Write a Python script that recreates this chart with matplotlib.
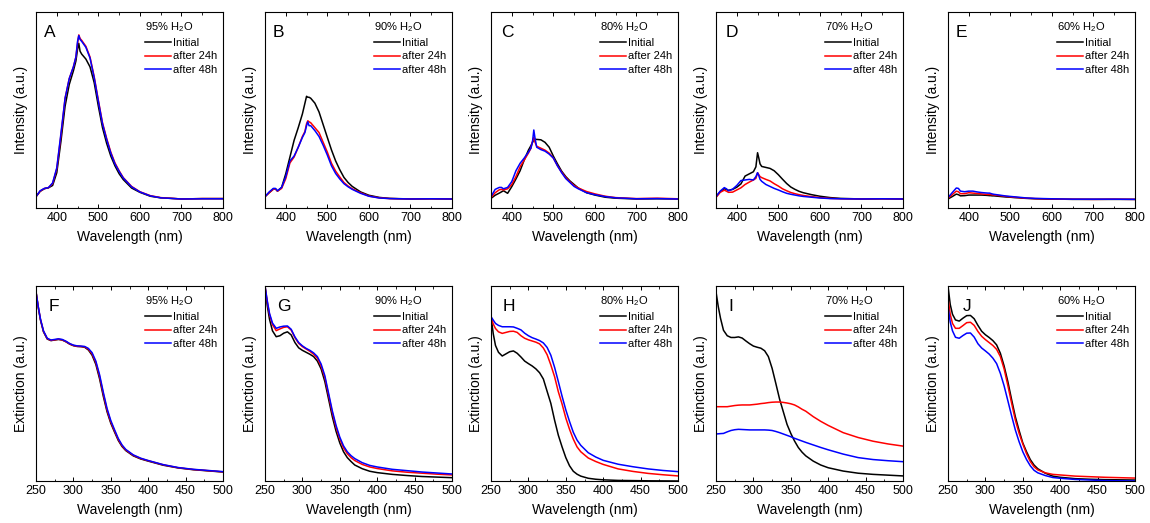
import matplotlib
matplotlib.use('Agg')
import matplotlib.pyplot as plt
from matplotlib.ticker import MultipleLocator

plt.rcParams['font.family'] = ['Liberation Sans', 'DejaVu Sans']
plt.rcParams['mathtext.fontset'] = 'custom'
plt.rcParams['mathtext.rm'] = 'Liberation Sans'
plt.rcParams['mathtext.it'] = 'Liberation Sans:italic'

# wavelength grids (nm)
pl_wl = [350, 360, 370, 375, 380, 390, 400, 410, 420, 430, 440, 446, 450, 453, 456, 460, 470, 480,
         490, 500, 510, 520, 530, 540, 550, 560, 580, 600, 625, 650, 700, 750, 800]
abs_wl = [250, 253, 256, 260, 265, 270, 275, 280, 285, 290, 295, 300, 305, 310, 315, 320, 325,
          330, 335, 340, 345, 350, 355, 360, 365, 370, 380, 390, 400, 420, 440, 460, 480, 500]

water = ['95%', '90%', '80%', '70%', '60%']
series_labels = ['Initial', 'after 24h', 'after 48h']

# emission (a.u.), top row
a_init = [5.8, 8.5, 9.8, 10.1, 10.3, 11.5, 18, 34, 52, 63, 70, 75, 81, 84, 80, 78.5, 76, 72,
          64, 52, 41, 33, 26.5, 21.5, 17.5, 14.5, 10.2, 8, 6, 5.2, 4.6, 4.8, 4.8]
a_24h = [5.8, 8.6, 9.9, 10.2, 10.4, 12.5, 20, 37, 56, 66, 72, 77, 84, 88.3, 86.5, 85.5, 82.5, 77,
         67, 55, 43.5, 35.5, 28.5, 23, 19, 15.5, 11, 8.3, 6.3, 5.3, 4.6, 4.8, 4.8]
a_48h = [5.8, 8.8, 10.0, 10.2, 10.4, 12.8, 20.5, 38, 56, 66, 72, 77, 85, 88, 86, 85, 82, 76.5,
         66.5, 54.5, 43, 35, 28, 22.5, 18.7, 15.3, 10.8, 8.2, 6.2, 5.2, 4.6, 4.7, 4.7]

b_init = [5.8, 7.8, 9.6, 9.8, 8.6, 10.5, 17.5, 26, 34.5, 41, 48, 53.4, 57, 56.5, 56.5, 56, 53.5, 49,
          42.5, 36, 29.6, 24, 19.5, 15.6, 13, 11, 8.2, 6.5, 5.4, 4.9, 4.6, 4.7, 4.6]
b_24h = [5.8, 7.8, 9.6, 9.8, 8.6, 10.0, 15, 23, 26, 31, 36.5, 39, 43, 44.5, 44, 43.5, 41, 38.5,
         33.5, 28.5, 22.8, 18.8, 15.8, 13, 11.2, 9.8, 7.8, 6.1, 5.2, 4.8, 4.6, 4.7, 4.6]
b_48h = [5.8, 8.2, 10, 10, 8.8, 10.5, 16, 24, 26.5, 31, 36, 38.5, 42, 44, 42, 42, 39.5, 36.5,
         32, 27, 21.5, 17.6, 14.8, 12.4, 10.8, 9.5, 7.5, 6, 5.1, 4.8, 4.6, 4.7, 4.6]

c_init = [4.9, 6.5, 7.6, 8.2, 8.8, 7.5, 10.9, 14.8, 19, 24.5, 29.5, 31.8, 33.5, 34.7, 35, 35, 34.8, 33.5,
          31, 26.5, 22.5, 18.8, 16, 13.8, 12, 10.2, 7.8, 6.6, 5.5, 5, 4.6, 4.7, 4.6]
c_24h = [5.3, 7.8, 9.3, 9.5, 9.2, 9.8, 12, 16, 21, 24.5, 28, 30.5, 34, 36, 33.5, 31.5, 30.5, 29.5,
         28, 25.5, 21.5, 18.3, 15.5, 13.3, 11.5, 10.2, 8.4, 7.2, 6, 5.3, 4.8, 5, 4.7]
c_48h = [5.8, 9.5, 10.5, 10.5, 9.8, 10.5, 13.5, 19, 22.8, 25.5, 28.5, 30.5, 34, 39.8, 35.5, 31, 29.8, 29,
         27.5, 25.5, 21.5, 18, 15, 13, 11, 9.8, 7.8, 6.8, 5.8, 5.2, 4.7, 4.8, 4.6]

d_init = [5.8, 8.2, 9.8, 9.5, 9.0, 9.5, 10.6, 12.3, 16.3, 17.4, 18.5, 21, 28.2, 25.5, 22.5, 21.2, 20.7, 20.2,
          19, 17, 14.7, 12.5, 10.7, 9.5, 8.5, 7.8, 6.8, 6, 5.3, 4.9, 4.6, 4.7, 4.6]
d_24h = [5.4, 8.0, 9.1, 8.6, 8.0, 8.1, 9.2, 10.3, 12, 13.2, 14.3, 15.1, 18, 17, 16, 15.5, 14.6, 13.8,
         12.4, 11.2, 9.8, 8.8, 7.9, 7.3, 6.8, 6.4, 5.8, 5.3, 4.9, 4.7, 4.6, 4.7, 4.6]
d_48h = [5.8, 8.6, 10.4, 9.8, 8.8, 9.6, 11.5, 14.0, 14.3, 14.6, 14.3, 16, 18, 16.5, 14.6, 13.6, 12, 11,
         10, 9.2, 8.3, 7.5, 7, 6.6, 6.2, 5.9, 5.5, 5.1, 4.8, 4.7, 4.6, 4.7, 4.6]

e_init = [4.6, 5.8, 7.1, 6.8, 6.2, 6.3, 6.6, 6.6, 6.6, 6.6, 6.5, 6.4, 6.3, 6.3, 6.2, 6.2, 6.0, 5.8,
          5.6, 5.5, 5.3, 5.2, 5.0, 4.9, 4.8, 4.7, 4.6, 4.5, 4.5, 4.4, 4.4, 4.4, 4.4]
e_24h = [4.9, 6.8, 8.6, 8.3, 7.3, 7.3, 7.8, 7.6, 7.4, 7.2, 7.0, 6.9, 6.9, 6.8, 6.7, 6.7, 6.4, 6.2,
         5.9, 5.7, 5.5, 5.3, 5.1, 5.0, 4.9, 4.8, 4.7, 4.6, 4.5, 4.5, 4.4, 4.5, 4.4]
e_48h = [5.3, 7.8, 10.2, 10.0, 8.6, 8.3, 8.6, 8.6, 8.2, 7.9, 7.7, 7.6, 7.6, 7.4, 7.2, 7.0, 6.7, 6.4,
         6.1, 5.9, 5.7, 5.5, 5.3, 5.1, 5.0, 4.9, 4.8, 4.7, 4.6, 4.5, 4.5, 4.5, 4.4]

# extinction (a.u.), bottom row
f_init = [97, 89, 82.5, 76.5, 72.8, 72, 72.3, 72.6, 72.3, 71.4, 70.2, 69.4, 69, 68.9, 68.6, 67.2, 64.5,
          59.8, 52.4, 43.4, 35.5, 29.6, 25.1, 20.8, 17.7, 15.6, 12.9, 11.3, 10.2, 8.1, 6.7, 5.8, 5.2, 4.6]
f_24h = [97, 89.3, 82.8, 76.8, 73, 72.1, 72.4, 72.7, 72.4, 71.5, 70.3, 69.5, 69.1, 69, 68.8, 67.6, 65.2,
         60.8, 53.6, 44.6, 36.4, 30.3, 25.7, 21.3, 18.1, 15.9, 13.2, 11.5, 10.4, 8.3, 6.8, 5.9, 5.3, 4.7]
f_48h = [97, 89.5, 83, 77, 73.2, 72.3, 72.6, 72.9, 72.6, 71.7, 70.5, 69.7, 69.3, 69.2, 69, 68, 65.8,
         61.5, 54.5, 45.5, 37.2, 31, 26.3, 21.8, 18.5, 16.2, 13.4, 11.7, 10.5, 8.4, 6.9, 6, 5.4, 4.8]

g_init = [100, 90, 83, 77, 74, 74.5, 75.8, 76.5, 74.9, 71, 68.3, 67, 66, 65, 63.8, 61.5, 57.5,
          51, 42, 33, 25.5, 19.5, 15, 12, 10, 8.2, 6.3, 5, 4.3, 3.4, 2.8, 2.3, 2, 1.7]
g_24h = [100, 92, 85.5, 80.2, 77.1, 78, 78.8, 79.1, 77.4, 73.5, 70.6, 68.9, 67.7, 66.5, 65, 63, 59,
         53, 44, 35, 27.5, 21.5, 17, 14, 12, 10.5, 8.5, 7.2, 6.4, 5.2, 4.5, 4, 3.5, 3.1]
g_48h = [100, 92.5, 86, 81, 78.3, 79, 79.4, 79.5, 77.8, 73.9, 71, 69.3, 68, 67, 65.7, 63.8, 60,
         54, 45, 36, 28.5, 22.5, 18, 15, 13, 11.5, 9.4, 8, 7.2, 6, 5.3, 4.6, 4.1, 3.6]

h_init = [84.3, 75.5, 69.5, 66, 64.1, 65.2, 66.3, 66.7, 65.5, 63.6, 61.5, 60.2, 59, 57.5, 55.5, 52.3, 46,
          39.8, 31.2, 23.5, 17.5, 12, 7.8, 5, 3.5, 2.5, 1.4, 0.9, 0.6, 0.3, 0.2, 0.1, 0.05, 0]
h_24h = [84, 80.5, 78.2, 76.5, 75.7, 76.2, 76.7, 76.8, 76.2, 74.5, 73.2, 72.4, 71.8, 71.2, 70.3, 68.2, 64.8,
         59.5, 53.5, 45.8, 39.5, 32.3, 26.5, 21.5, 17.5, 15, 11.8, 10, 8.5, 6.2, 4.9, 3.9, 3.2, 2.6]
h_48h = [84.3, 82.5, 80.8, 79.8, 79.1, 79.1, 79.1, 79, 78.3, 77.5, 75.8, 74.5, 73.5, 72.8, 72, 70.8, 68.5,
         64.5, 58.3, 51, 43.5, 36.5, 30.5, 25, 21, 18.3, 14.5, 12.3, 10.6, 8.6, 7.3, 6.2, 5.4, 4.8]

i_init = [97, 89.5, 83.5, 77.3, 74.5, 73.6, 73.6, 73.9, 73.3, 71.8, 70.4, 69.2, 68.6, 68.1, 66.8, 63.8, 57.8,
          50, 42, 35.5, 29, 24.4, 20.5, 17.2, 14.8, 12.9, 10.2, 8.2, 6.8, 5.1, 4, 3.4, 3, 2.6]
i_24h = [38.1, 38.1, 38.1, 38.1, 38.1, 38.4, 38.7, 38.9, 39, 39, 39, 39.2, 39.4, 39.7, 39.9, 40.2, 40.4,
         40.5, 40.5, 40.3, 40, 39.6, 39, 38, 36.8, 35.8, 33, 30.6, 28.5, 24.8, 22.3, 20.4, 19, 17.9]
i_48h = [24.1, 24.2, 24.3, 24.4, 25.2, 25.9, 26.3, 26.5, 26.4, 26.3, 26.2, 26.2, 26.2, 26.2, 26.2, 26.1, 25.9,
         25.4, 24.8, 24.1, 23.4, 22.7, 21.9, 21.2, 20.5, 19.8, 18.5, 17.2, 16, 13.8, 12, 11, 10.4, 9.9]

j_init = [100, 90.5, 85.5, 82.6, 82, 83.5, 84.8, 84.9, 83.2, 79.8, 76.8, 75, 73.6, 72, 69.8, 65.5, 59,
          51, 41.8, 33, 26, 19.5, 15, 11, 8.2, 6.3, 4, 2.5, 1.9, 1.2, 0.9, 0.7, 0.6, 0.5]
j_24h = [93.7, 85.5, 80.8, 78.3, 78.3, 79.7, 81.2, 81.4, 79.8, 76.7, 74.2, 72.5, 71, 69.5, 67.5, 63.8, 57.5,
         49, 40, 31.3, 24.5, 19, 14, 10, 7.3, 5.7, 4.2, 3.4, 3.1, 2.5, 2.2, 1.9, 1.7, 1.5]
j_48h = [89.4, 81.5, 77, 73.7, 73.2, 74.6, 75.8, 75.9, 73.8, 70.4, 68.2, 66.7, 65.1, 63, 60.2, 55.2, 48.8,
         41.2, 33.5, 26.2, 20.2, 15, 11, 7.8, 5.5, 4.2, 2.8, 1.8, 1.4, 0.8, 0.5, 0.2, 0.1, 0]

top_sets = [(a_init, a_24h, a_48h), (b_init, b_24h, b_48h), (c_init, c_24h, c_48h),
            (d_init, d_24h, d_48h), (e_init, e_24h, e_48h)]
bot_sets = [(f_init, f_24h, f_48h), (g_init, g_24h, g_48h), (h_init, h_24h, h_48h),
            (i_init, i_24h, i_48h), (j_init, j_24h, j_48h)]

colors = ['black', '#ff0000', '#0000ff']
W, H = 1150, 523
lefts = [36, 265, 491, 716, 948]
letter_dx = [[8, 8, 10, 10, 8], [13, 12, 12, 12, 15]]

fig = plt.figure(figsize=(W / 100, H / 100), dpi=100)


def panel(row, col, wl, curves, letter):
    if row == 0:
        ax = fig.add_axes([lefts[col] / W, (H - 208) / H, 187 / W, 196 / H])
    else:
        ax = fig.add_axes([lefts[col] / W, (H - 481) / H, 187 / W, 195 / H])
    for y, c, lab in zip(curves, colors, series_labels):
        ax.plot(wl, y, color=c, lw=1.1, label=lab)
    if row == 0:
        ax.set_xlim(350, 800)
        ax.xaxis.set_major_locator(MultipleLocator(100))
        ax.xaxis.set_minor_locator(MultipleLocator(50))
        ax.set_ylabel('Intensity (a.u.)', fontsize=10, labelpad=6)
    else:
        ax.set_xlim(250, 500)
        ax.xaxis.set_major_locator(MultipleLocator(50))
        ax.xaxis.set_minor_locator(MultipleLocator(25))
        ax.set_ylabel('Extinction (a.u.)', fontsize=10, labelpad=6)
    ax.set_ylim(0, 100)
    ax.set_yticks([])
    ax.set_xlabel('Wavelength (nm)', fontsize=10, labelpad=4)
    ax.tick_params(axis='x', which='both', direction='in', top=True, labelsize=9, pad=3)
    ax.tick_params(axis='x', which='major', length=3, width=0.7)
    ax.tick_params(axis='x', which='minor', length=1.8, width=0.6)
    for s in ax.spines.values():
        s.set_linewidth(0.8)
    ax.text(letter_dx[row][col] / 187, 1 - 25 / 196, letter, transform=ax.transAxes,
            fontsize=12.5, va='baseline', ha='left')
    ax.legend(title=water[col] + r' $\mathregular{H_2O}$', loc='upper left',
              bbox_to_anchor=(0.536, 1.0), frameon=False, fontsize=8, title_fontsize=8,
              handlelength=2.4, handletextpad=0.2, labelspacing=0.33,
              borderpad=0.3, borderaxespad=0.45, alignment='left')
    return ax


for k in range(5):
    panel(0, k, pl_wl, top_sets[k], 'ABCDE'[k])
    panel(1, k, abs_wl, bot_sets[k], 'FGHIJ'[k])

fig.savefig('out.png', dpi=100)
